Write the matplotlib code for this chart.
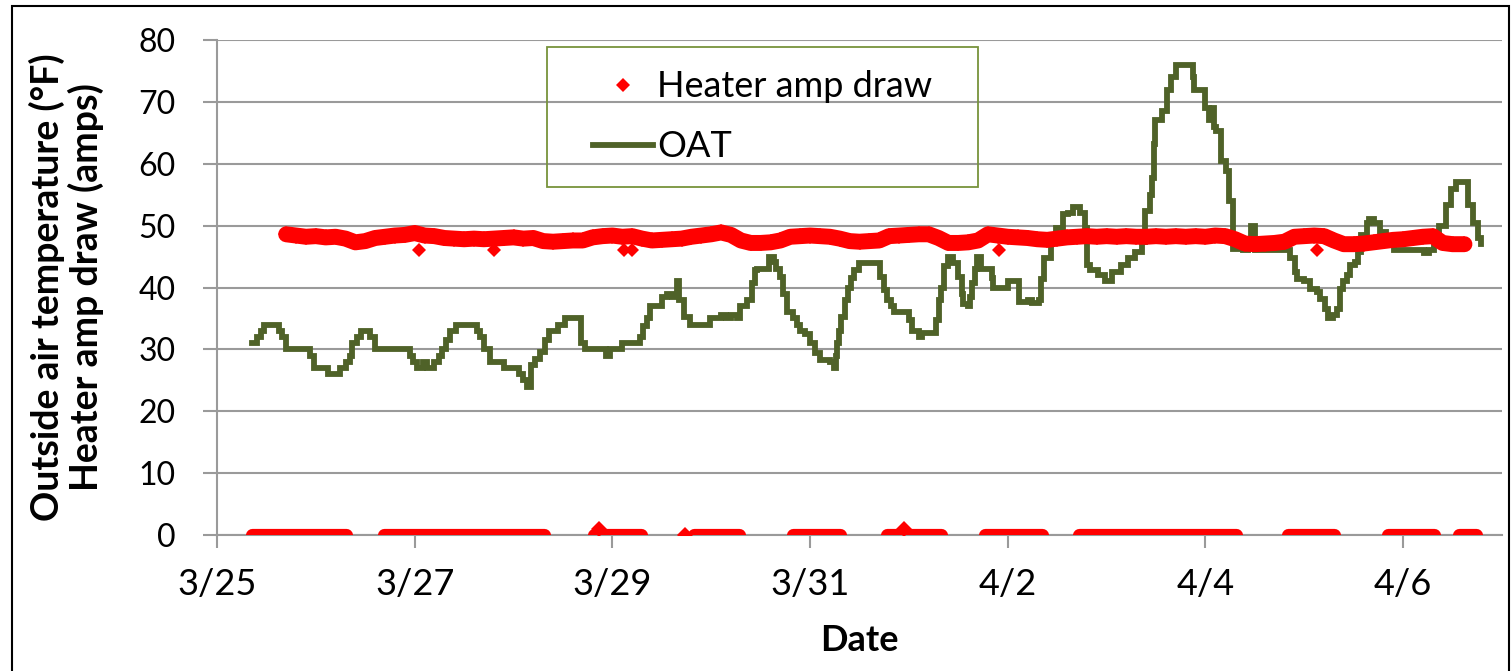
import matplotlib
matplotlib.use("Agg")
import matplotlib.pyplot as plt
from matplotlib.lines import Line2D
from matplotlib.patches import Rectangle

# ---------------- data (x = days since 3/25) ----------------
tick_pos = [0, 2, 4, 6, 8, 10, 12]
tick_labels = ["3/25", "3/27", "3/29", "3/31", "4/2", "4/4", "4/6"]

# Outside air temperature (°F), read at the corners of the stepped trace
oat_t = [0.35, 0.40, 0.45, 0.48, 0.63, 0.66, 0.70, 0.94, 0.98, 1.12, 1.24, 1.30, 1.35,
         1.37, 1.42, 1.46, 1.55, 1.60, 1.95, 1.98, 2.02, 2.08, 2.12, 2.20, 2.25, 2.28,
         2.32, 2.36, 2.42, 2.63, 2.66, 2.70, 2.76, 2.90, 3.06, 3.10, 3.14, 3.18, 3.22,
         3.27, 3.32, 3.36, 3.45, 3.52, 3.68, 3.72, 3.94, 3.98, 4.00, 4.10, 4.25, 4.28,
         4.31, 4.35, 4.38, 4.45, 4.50, 4.55, 4.60, 4.65, 4.67, 4.72, 4.79, 4.96, 4.99,
         5.10, 5.15, 5.20, 5.26, 5.29, 5.36, 5.41, 5.44, 5.46, 5.53, 5.58, 5.63, 5.66,
         5.70, 5.73, 5.77, 5.83, 5.87, 5.90, 5.95, 6.00, 6.05, 6.10, 6.20, 6.24, 6.26,
         6.27, 6.29, 6.31, 6.35, 6.38, 6.41, 6.44, 6.49, 6.68, 6.71, 6.75, 6.78, 6.82,
         6.85, 6.97, 7.00, 7.03, 7.10, 7.13, 7.25, 7.27, 7.30, 7.32, 7.35, 7.40, 7.45,
         7.50, 7.54, 7.55, 7.60, 7.62, 7.64, 7.67, 7.69, 7.73, 7.79, 7.84, 7.85, 7.96,
         8.00, 8.10, 8.11, 8.20, 8.25, 8.32, 8.34, 8.37, 8.44, 8.49, 8.56, 8.61, 8.66,
         8.73, 8.78, 8.80, 8.83, 8.91, 8.98, 9.05, 9.15, 9.22, 9.29, 9.36, 9.39, 9.44,
         9.46, 9.48, 9.49, 9.56, 9.61, 9.65, 9.70, 9.83, 9.87, 9.88, 9.97, 10.00, 10.04,
         10.07, 10.09, 10.11, 10.16, 10.21, 10.24, 10.28, 10.38, 10.43, 10.46, 10.50,
         10.82, 10.86, 10.91, 10.93, 11.00, 11.06, 11.13, 11.16, 11.21, 11.24, 11.29,
         11.33, 11.36, 11.39, 11.43, 11.46, 11.51, 11.54, 11.57, 11.63, 11.65, 11.71,
         11.77, 11.83, 11.86, 11.91, 12.18, 12.21, 12.26, 12.28, 12.31, 12.36, 12.43,
         12.48, 12.53, 12.64, 12.66, 12.71, 12.76, 12.79]
oat_v = [31, 32, 33, 34, 33, 32, 30, 29, 27, 26, 27, 28, 29,
         31, 32, 33, 32, 30, 29, 28, 27, 28, 27, 28, 29, 30,
         31.5, 33, 34, 33, 32, 30, 28, 27, 26, 25, 24, 27.5, 28.5,
         29.5, 31.5, 33, 34, 35, 31, 30, 29, 30, 30, 31, 31, 32,
         33.7, 35, 37, 37, 38.5, 39, 38.5, 41, 38, 35.3, 34, 34, 35,
         35.5, 35, 35.5, 35, 37, 38, 40.7, 42.8, 43, 43, 45, 44.2, 43,
         41.7, 39, 36, 35, 34, 33, 32.5, 31, 29.4, 28.3, 28, 27, 29,
         31, 33, 35.3, 38, 40, 41.5, 42.8, 44, 44, 41.7, 39.6, 38, 37,
         36, 36, 34.7, 33, 32, 32.6, 32.6, 34.7, 38, 40, 43.4, 45, 44,
         41.7, 39, 37.4, 37, 38.5, 40.7, 43, 45, 43, 43, 41.5, 40, 40,
         41, 41, 37.7, 38, 37.5, 38, 41.4, 44.7, 48, 49.6, 51.8, 52, 53,
         52, 49.6, 43.6, 42.8, 42, 41, 42.5, 43.6, 44.7, 45.8, 47.4, 52.3, 55,
         57.7, 63.2, 67, 68.6, 72, 74, 76, 76, 74, 72, 72, 69, 67,
         69, 66, 65.3, 60.4, 58.8, 53.9, 46.3, 46, 47.4, 50, 46,
         46, 44.7, 42.5, 41.4, 41, 39.8, 39.3, 38.2, 36.6, 35, 35.5,
         36.6, 39.8, 41, 42, 43.6, 44.2, 45.8, 48.5, 50.5, 51, 50.5,
         49, 48, 47.4, 46, 46, 45.5, 46, 46, 47.4, 50, 53.4,
         56, 57, 57, 53.4, 50.4, 48, 47]

# Heater amp draw while running (amps), read every 0.1 day
amp_on_t = [0.70, 0.80, 0.90, 1.00, 1.10, 1.20, 1.30, 1.40, 1.50, 1.60, 1.70, 1.80, 1.90,
            2.00, 2.10, 2.20, 2.30, 2.40, 2.50, 2.60, 2.70, 2.80, 2.90, 3.00, 3.10, 3.20,
            3.30, 3.40, 3.50, 3.60, 3.70, 3.80, 3.90, 4.00, 4.10, 4.20, 4.30, 4.40, 4.50,
            4.60, 4.70, 4.80, 4.90, 5.00, 5.10, 5.20, 5.30, 5.40, 5.50, 5.60, 5.70, 5.80,
            5.90, 6.00, 6.10, 6.20, 6.30, 6.40, 6.50, 6.60, 6.70, 6.80, 6.90, 7.00, 7.10,
            7.20, 7.30, 7.40, 7.50, 7.60, 7.70, 7.80, 7.90, 8.00, 8.10, 8.20, 8.30, 8.40,
            8.50, 8.60, 8.70, 8.80, 8.90, 9.00, 9.10, 9.20, 9.30, 9.40, 9.50, 9.60, 9.70,
            9.80, 9.90, 10.00, 10.10, 10.20, 10.30, 10.40, 10.50, 10.60, 10.70, 10.80,
            10.90, 11.00, 11.10, 11.20, 11.30, 11.40, 11.50, 11.60, 11.70, 11.80, 11.90,
            12.00, 12.10, 12.20, 12.30, 12.40, 12.50, 12.62]
amp_on_v = [48.6, 48.4, 48.2, 48.3, 48.1, 48.2, 47.9, 47.3, 47.5, 48.0, 48.2, 48.4, 48.5,
            48.8, 48.4, 48.3, 48.0, 47.9, 47.8, 47.9, 47.8, 47.9, 48.0, 48.1, 47.9, 48.0,
            47.5, 47.4, 47.5, 47.6, 47.6, 48.1, 48.3, 48.4, 48.2, 48.3, 47.9, 47.6, 47.7,
            47.8, 47.9, 48.2, 48.4, 48.6, 48.9, 48.5, 47.6, 47.2, 47.2, 47.3, 47.6, 48.2,
            48.3, 48.4, 48.3, 48.2, 47.9, 47.5, 47.4, 47.5, 47.6, 48.3, 48.4, 48.5, 48.6,
            48.6, 48.0, 47.2, 47.2, 47.3, 47.6, 48.6, 48.4, 48.2, 48.1, 48.0, 47.8, 47.7,
            47.9, 48.1, 48.2, 48.3, 48.2, 48.3, 48.2, 48.3, 48.2, 48.2, 48.3, 48.2, 48.3,
            48.2, 48.3, 48.2, 48.4, 48.3, 47.8, 47.1, 47.0, 47.1, 47.2, 47.4,
            48.2, 48.3, 48.4, 48.3, 47.6, 47.0, 47.0, 47.1, 47.3, 47.5, 47.7,
            47.8, 48.0, 48.2, 48.3, 47.2, 47.0, 47.0]

# isolated low readings while running
amp_low_t = [2.04, 2.80, 4.12, 4.20, 7.91, 11.13]
amp_low_v = [46, 46, 46, 46, 46, 46]

# periods when the heater was off (0 amps): start / end of each run of readings
off_start = [0.35, 1.69, 3.81, 4.83, 5.83, 6.78, 7.77, 8.72, 10.84, 11.85, 12.56]
off_end = [1.31, 3.31, 4.29, 5.28, 6.30, 7.32, 8.35, 10.31, 11.30, 12.31, 12.74]
off_level = [0, 0, 0, 0, 0, 0, 0, 0, 0, 0, 0]
# scattered off-period readings
off_pt_t = [3.86, 4.73, 6.95]
off_pt_v = [0.9, 0.0, 0.9]

# ---------------- figure ----------------
W, H = 1511, 671
plt.rcParams["font.family"] = ["Lato", "DejaVu Sans"]
fig = plt.figure(figsize=(W / 100, H / 100), dpi=100)
fig.patch.set_facecolor("white")

ax = fig.add_axes([217 / W, 1 - 535 / H, (1502 - 217) / W, (535 - 40) / H])

red = "#FF0000"
olive = "#4F6228"
grey = "#9A9A9A"

ax.plot(oat_t, oat_v, color=olive, lw=4.2, drawstyle="steps-post",
        solid_joinstyle="miter", zorder=3)

ax.plot(amp_on_t, amp_on_v, color=red, lw=11.5, marker="D", ms=8, mew=0,
        solid_joinstyle="round", solid_capstyle="round", zorder=4)
ax.plot(amp_low_t, amp_low_v, ls="none", marker="D", ms=7.5, mew=0, color=red, zorder=4)
ax.hlines(off_level, off_start, off_end, colors=red, lw=9.5, capstyle="round", zorder=4)
ax.plot(off_pt_t, off_pt_v, ls="none", marker="D", ms=8, mew=0, color=red, zorder=4)

ax.set_xlim(0, 13)
ax.set_ylim(0, 80)
ax.set_yticks(range(0, 81, 10))
ax.set_xticks(tick_pos)
ax.set_xticklabels(tick_labels)
ax.yaxis.grid(True, color=grey, lw=1.5)
ax.set_axisbelow(True)

for s in ["top", "right"]:
    ax.spines[s].set_visible(False)
for s in ["left", "bottom"]:
    ax.spines[s].set_color(grey)
    ax.spines[s].set_linewidth(1.5)

ax.tick_params(axis="y", length=10, width=1.5, color=grey, pad=20, labelsize=23)
ax.tick_params(axis="x", length=9.5, width=1.5, color=grey, pad=14, labelsize=26)

ax.set_xlabel("Date", fontsize=26, fontweight="bold")
ax.xaxis.set_label_coords(0.5, -(624 - 535) / 495)
ax.set_ylabel("Outside air temperature (°F)\nHeater amp draw (amps)",
              fontsize=27, fontweight="bold", linespacing=1.08)
ax.yaxis.set_label_coords(-(217 - 104) / 1285, 0.5)

# legend
handles = [
    Line2D([], [], ls="none", marker="D", ms=7, mew=0, color=red),
    Line2D([], [], color=olive, lw=4.2),
]
leg = ax.legend(handles, ["Heater amp draw", "OAT"], loc="center",
                bbox_to_anchor=((547 + 978) / 2 / W, 1 - (46.7 + 187) / 2 / H),
                bbox_transform=fig.transFigure, frameon=False, fontsize=26,
                handlelength=1.67, handletextpad=0.12, labelspacing=0.75,
                borderpad=0, borderaxespad=0)
fig.add_artist(Rectangle((547 / W, 1 - 187 / H), (978 - 547) / W, (187 - 46.7) / H,
                         transform=fig.transFigure, fill=False, ec="#77933C", lw=1.3))

# outer frame
fig.add_artist(Rectangle((12 / W, -0.05), (1509 - 12) / W, 1.05 - 6 / H,
                         transform=fig.transFigure, fill=False, ec="black", lw=1.5))

fig.savefig("out.png", dpi=100)
